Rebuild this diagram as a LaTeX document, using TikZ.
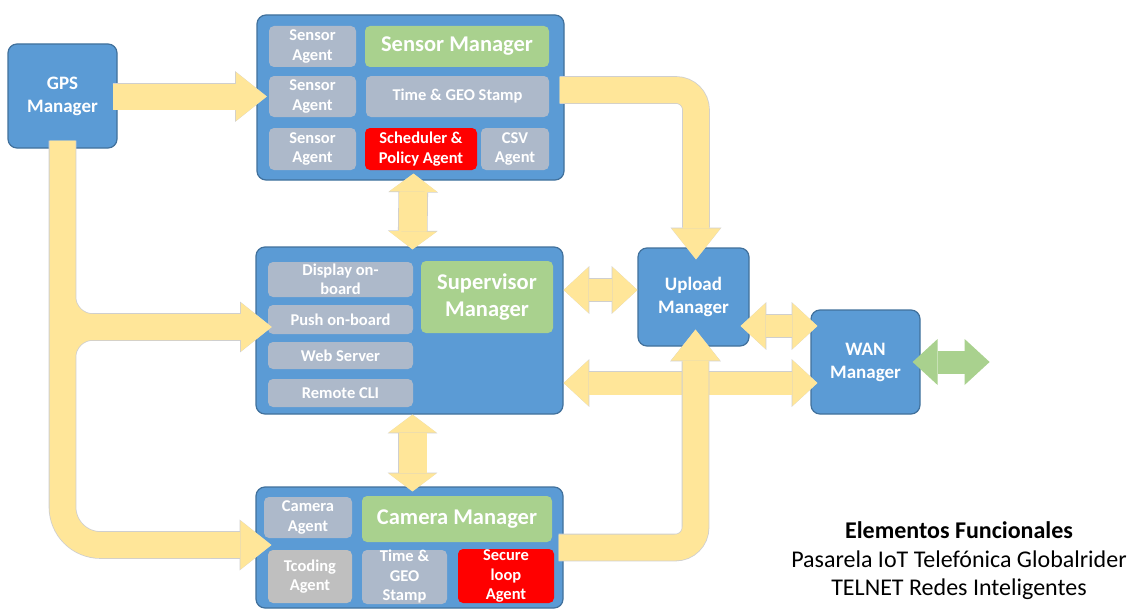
\documentclass[tikz,border=0pt]{standalone}
\usepackage{fontspec}
\setmainfont{Carlito}
\usepackage{xcolor}
\usetikzlibrary{arrows.meta,calc,positioning}
\definecolor{boxblue}{HTML}{5B9BD5}
\definecolor{boxedge}{HTML}{41719C}
\definecolor{agentgrey}{HTML}{ADB9CA}
\definecolor{plaingrey}{HTML}{BFBFBF}
\definecolor{titlegreen}{HTML}{A9D18E}
\definecolor{alertred}{HTML}{FF0000}
\definecolor{pipefill}{HTML}{FFE699}
\definecolor{pipeedge}{HTML}{CFCFCF}
\tikzset{%
	dims/.style 2 args = {minimum width=#1pt, minimum height=#2pt},
	frame/.style  = {draw=boxedge, fill=boxblue, line width=1.2pt, rounded corners=9pt, inner sep=0pt},
	mgr/.style    = {frame, text=white, align=center, font=\bfseries\fontsize{19}{23}\selectfont},
	agent/.style  = {fill=agentgrey, rounded corners=5pt, inner sep=0pt, text=white, align=center, font=\bfseries\fontsize{16.5}{19.5}\selectfont},
	title/.style  = {agent, fill=titlegreen, font=\bfseries\fontsize{22.5}{27}\selectfont},
	alert/.style  = {agent, fill=alertred},
	Head/.tip     = {Triangle[length=31pt, width=49pt, line width=0pt]},
	HeadRim/.tip  = {Triangle[length=31.8pt, width=50.8pt, line width=0pt]},
	Duo/.tip      = {Triangle[length=18pt, width=48pt, line width=0pt]},
	DuoRim/.tip   = {Triangle[length=18.8pt, width=49.8pt, line width=0pt]},
	Side/.tip     = {Triangle[length=25pt, width=46pt, line width=0pt]},
	SideRim/.tip  = {Triangle[length=25.8pt, width=47.8pt, line width=0pt]},
	trunk/.style  = {draw=pipefill, line width=26pt, preaction={draw=pipeedge, line width=27.6pt}},
	pipe/.style   = {draw=pipefill, line width=26pt, -Head, preaction={draw=pipeedge, line width=27.6pt, -HeadRim}},
	twoway/.style = {draw=pipefill, line width=28pt, Duo-Duo, preaction={draw=pipeedge, line width=29.6pt, DuoRim-DuoRim}},
	link/.style   = {draw=pipefill, line width=22pt, Side-Side, preaction={draw=pipeedge, line width=23.6pt, SideRim-SideRim}},
	wanlink/.style= {draw=titlegreen, line width=23pt, Side-Side},
}
\begin{document}
\begin{tikzpicture}[x=1pt, y=-1pt]
	\path[use as bounding box, fill=white] (0,0) rectangle (1132,610);
	% managers
	\node[mgr, dims={109}{104}] (gps) at (62.5,96) {GPS\\Manager};
	\node[frame, dims={307}{165}] (sensor) at (410.5,97.5) {};
	\node[frame, dims={307}{167}] (super) at (409.5,330.5) {};
	\node[frame, dims={307}{121}] (camera) at (409.5,547.5) {};
	\node[mgr, dims={111}{98}] (upload) at (693.5,297) {Upload\\Manager};
	\node[mgr, dims={109}{104}] (wan) at (865.5,362) {WAN\\Manager};
	% sensor manager
	\node[agent, dims={87}{41}] (sagent1) at (312.5,46.5) {Sensor\\Agent};
	\node[agent, dims={87}{41}] (sagent2) at (312.5,96.5) {Sensor\\Agent};
	\node[agent, dims={87}{42}] (sagent3) at (312.5,149) {Sensor\\Agent};
	\node[title, dims={184}{41}] (sensormgr) at (457,46.5) {Sensor Manager};
	\node[agent, dims={183}{41}] (sstamp) at (457.5,96.5) {Time \& GEO Stamp};
	\node[alert, dims={112}{42}] (sched) at (421,149) {Scheduler \&\\Policy Agent};
	\node[agent, dims={68}{42}] (csv) at (515,149) {CSV\\Agent};
	% supervisor manager
	\node[agent, dims={145}{35}, font=\bfseries\fontsize{16.5}{18.5}\selectfont] (display) at (340.5,279.5) {Display on-\\board};
	\node[agent, dims={145}{29}] (push) at (340.5,319.5) {Push on-board};
	\node[agent, dims={145}{27}] (web) at (340.5,355.5) {Web Server};
	\node[agent, dims={145}{28}] (cli) at (340.5,393) {Remote CLI};
	\node[title, dims={132}{72}] (supermgr) at (487,297) {Supervisor\\Manager};
	% camera manager
	\node[agent, dims={88}{41}] (camagent) at (308,517.5) {Camera\\Agent};
	\node[title, dims={190}{46}] (cameramgr) at (457,519) {Camera Manager};
	\node[agent, fill=plaingrey, dims={84}{53}] (tcoding) at (310,576.5) {Tcoding\\Agent};
	\node[agent, dims={85}{54}] (cstamp) at (404.5,577) {Time \&\\GEO\\Stamp};
	\node[alert, dims={96}{54}] (secure) at (506,576) {Secure\\loop\\Agent};
	% caption
	\node[align=center, font=\fontsize{24}{28.5}\selectfont] (credit) at (959,561)
		{\textbf{Elementos Funcionales}\\Pasarela IoT Telefónica Globalrider\\TELNET Redes Inteligentes};
	% gps feeds
	\draw[pipe] ([xshift=-5pt]gps.east |- sagent2.west) -- ([xshift=-2pt]sagent2.west);
	\coordinate (pushtip) at ([shift={(4pt,-7.5pt)}]push.west);
	\coordinate (camtip) at ([shift={(16pt,2.5pt)}]camera.west);
	\coordinate (fork) at (gps.south |- pushtip);
	\draw[trunk] ([yshift=8pt]gps.south) [rounded corners=38pt] |- ([xshift=-40pt]camtip)
		[rounded corners=30pt] ([yshift=50pt]fork) -- (fork) -- ([xshift=-40pt]pushtip)
		([yshift=-50pt]fork) -- (fork) -- ([xshift=-40pt]pushtip);
	\draw[pipe] ([xshift=-60pt]pushtip) -- (pushtip);
	\draw[pipe] ([xshift=-60pt]camtip) -- (camtip);
	% between managers
	\draw[twoway] ([shift={(3pt,7pt)}]sensor.south) -- ([shift={(3pt,-3pt)}]super.north);
	\draw[twoway] ([xshift=3pt]super.south) -- ([shift={(3pt,-5pt)}]camera.north);
	\coordinate (su) at ([yshift=7pt]upload.west);
	\draw[link] (super.east |- su) -- (su);
	\coordinate (uw) at ([shift={(-9pt,-29pt)}]upload.east);
	\draw[link] (uw) -- ($(wan.west |- uw)+(7,0)$);
	\coordinate (sw) at ([yshift=-52.5pt]super.east);
	\draw[link, line width=23pt] (sw) -- ($(wan.west |- sw)+(7,0)$);
	\draw[pipe, rounded corners=20pt] ([shift={(-5pt,7.5pt)}]sensor.east) -| ([shift={(2.5pt,-12pt)}]upload.north);
	\draw[pipe, rounded corners=20pt] ([xshift=-5pt]camera.east) -| ([shift={(2pt,17pt)}]upload.south);
	\draw[wanlink] ([xshift=-8pt]wan.east) -- ++(77,0);
\end{tikzpicture}
\end{document}
